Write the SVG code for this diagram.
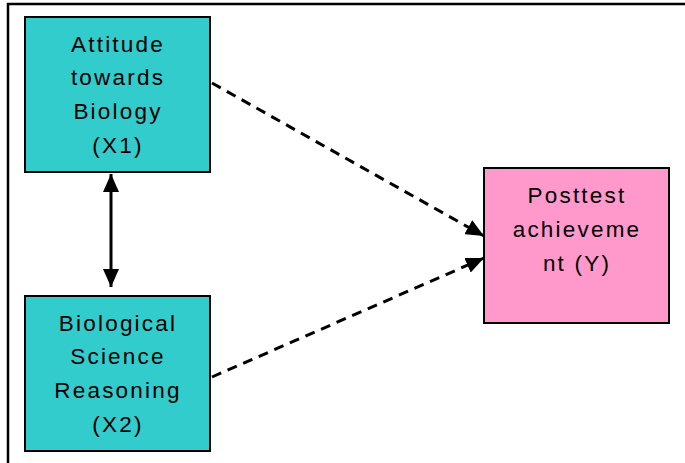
<svg xmlns="http://www.w3.org/2000/svg" width="685" height="463" viewBox="0 0 685 463">
<style>
.box{stroke:#000;stroke-width:2}
.x{fill:#33CCCC}
.y{fill:#FF99CC}
text{font-family:"Liberation Sans",Arial,sans-serif;font-size:22.5px;fill:#000;text-anchor:middle;letter-spacing:2.2px}
.c{fill:none;stroke:#000;stroke-width:3}
.d{stroke-dasharray:10 7}
</style>
<defs>
<marker id="ah" viewBox="0 0 18 16" refX="18" refY="8" markerWidth="18" markerHeight="16" markerUnits="userSpaceOnUse" orient="auto-start-reverse">
<path d="M0,0 L18,8 L0,16 Z" fill="#000"/>
</marker>
</defs>
<rect x="0" y="0" width="685" height="463" fill="#fff"/>
<path d="M8,463 V4 H685" fill="none" stroke="#000" stroke-width="2.5"/>
<g id="x1">
<rect class="box x" x="25" y="17" width="185" height="155"/>
<text x="118" y="52">Attitude</text>
<text x="118" y="85">towards</text>
<text x="118" y="119">Biology</text>
<text x="118" y="153">(X1)</text>
</g>
<g id="x2">
<rect class="box x" x="25" y="296" width="185" height="155"/>
<text x="118" y="331">Biological</text>
<text x="118" y="364">Science</text>
<text x="118" y="398">Reasoning</text>
<text x="118" y="432">(X2)</text>
</g>
<g id="y">
<rect class="box y" x="484" y="168" width="185" height="155"/>
<text x="577" y="203">Posttest</text>
<text x="577" y="237">achieveme</text>
<text x="577" y="271">nt (Y)</text>
</g>
<g id="connectors">
<line class="c" x1="111" y1="174" x2="111" y2="287" marker-start="url(#ah)" marker-end="url(#ah)"/>
<line class="c d" x1="212" y1="83" x2="484" y2="236" marker-end="url(#ah)"/>
<line class="c d" x1="212" y1="377" x2="484" y2="258" marker-end="url(#ah)"/>
</g>
</svg>
